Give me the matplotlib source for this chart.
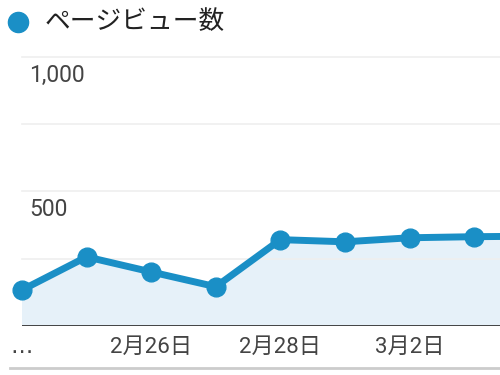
import matplotlib.pyplot as plt
from matplotlib.lines import Line2D

## === Data === ##

days = ["2月24日", "2月25日", "2月26日", "2月27日", "2月28日", "3月1日", "3月2日", "3月3日", "3月4日"]
pageviews = [134, 257, 201, 146, 321, 313, 328, 332, 334]
tick_idx = [0, 2, 4, 6]
tick_labels = ["…", "2月26日", "2月28日", "3月2日"]
y_labels = [(1000, "1,000"), (500, "500")]

line_color = "#1a8fc6"
fill_color = "#e6f1f9"

plt.rcParams["font.family"] = ["Roboto", "Noto Sans CJK JP", "DejaVu Sans"]

fig = plt.figure(figsize=(5, 3.75), dpi=100)
ax = fig.add_axes([22 / 500, 49 / 375, 478 / 500, 269 / 375])

x = list(range(len(days)))
ax.fill_between(x, pageviews, 0, color=fill_color, zorder=1)
ax.plot(x, pageviews, color=line_color, lw=5, marker="o", ms=13.5,
        solid_capstyle="round", zorder=3, clip_on=False)

ax.set_xlim(0, 478 / 64.6)
ax.set_ylim(0, 1000)

# grid lines every 250
for v in [250, 500, 750, 1000]:
    ax.axhline(v, color="#efefef", lw=1.2, zorder=2, clip_on=False)
ax.axhline(0, color="#333333", lw=2, zorder=4)

for v, s in y_labels:
    ax.annotate(s, xy=(0, v), xytext=(7, -7), textcoords="offset pixels",
                ha="left", va="top", fontsize=16.5, color="#444444")

ax.set_xticks([x[i] for i in tick_idx])
ax.set_xticklabels(tick_labels, fontsize=16, color="#444444")
ax.get_xticklabels()[0].set_fontfamily("DejaVu Sans")
ax.tick_params(axis="x", length=0, pad=8)
ax.set_yticks([])
for sp in ax.spines.values():
    sp.set_visible(False)

# legend at top
fig.add_artist(Line2D([18 / 500], [1 - 22 / 375], marker="o", ms=14.5,
                      color=line_color, lw=0, transform=fig.transFigure))
fig.text(45 / 500, 1 - 22 / 375, "ページビュー数", fontsize=18.5,
         color="#222222", va="center", ha="left")

# bottom border
fig.add_artist(Line2D([10 / 500, 1], [1 - 368 / 375] * 2, color="#cccccc",
                      lw=2, transform=fig.transFigure))

fig.savefig("out.png", dpi=100)
